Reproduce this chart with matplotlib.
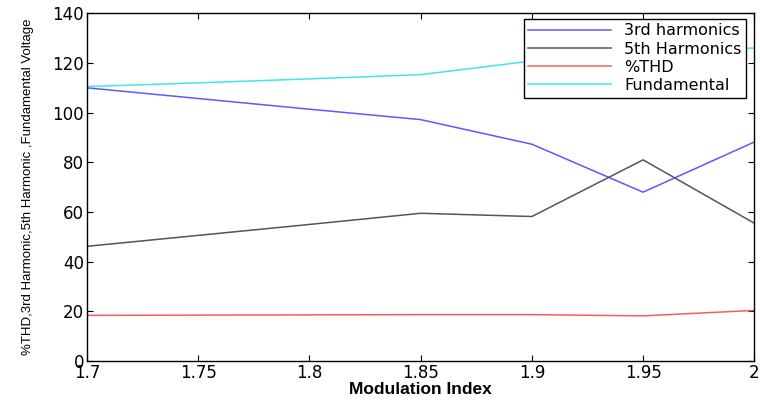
import matplotlib
matplotlib.use("Agg")
import matplotlib.pyplot as plt

# data
modulation_index = [1.7, 1.75, 1.8, 1.85, 1.9, 1.95, 2.0]
third_harmonic = [110.0, 105.7, 101.4, 97.2, 87.3, 68.0, 88.2]
fifth_harmonic = [46.2, 50.6, 55.0, 59.5, 58.2, 81.0, 55.5]
thd_percent = [18.4, 18.5, 18.6, 18.7, 18.7, 18.2, 20.4]
fundamental = [110.5, 112.0, 113.6, 115.3, 120.8, 125.0, 126.0]

x_ticks = [1.7, 1.75, 1.8, 1.85, 1.9, 1.95, 2.0]
x_tick_labels = ["1.7", "1.75", "1.8", "1.85", "1.9", "1.95", "2"]
y_ticks = [0, 20, 40, 60, 80, 100, 120, 140]

plt.rcParams["font.family"] = ["DejaVu Sans"]

fig = plt.figure(figsize=(7.6, 4.03), dpi=100)
ax = fig.add_axes([0.1145, 0.104, 0.878, 0.863])

ax.plot(modulation_index, third_harmonic, color="#5a5aff", lw=1.1, label="3rd harmonics")
ax.plot(modulation_index, fifth_harmonic, color="#555555", lw=1.1, label="5th Harmonics")
ax.plot(modulation_index, thd_percent, color="#ff5a5a", lw=1.1, label="%THD")
ax.plot(modulation_index, fundamental, color="#40e6e6", lw=1.1, label="Fundamental")

ax.set_xlim(1.7, 2.0)
ax.set_ylim(0, 140)
ax.set_xticks(x_ticks, x_tick_labels)
ax.set_yticks(y_ticks)
ax.tick_params(direction="in", top=True, right=True, length=4, labelsize=12, pad=2)
for spine in ax.spines.values():
    spine.set_linewidth(1.0)

ax.set_xlabel("Modulation Index", fontsize=12.5, fontweight="bold", labelpad=0,
              family=["Liberation Sans", "DejaVu Sans"])
ax.set_ylabel("%THD,3rd Harmonic,5th Harmonic ,Fundamental Voltage", fontsize=9.5,
              family=["Liberation Sans Narrow", "Liberation Sans", "DejaVu Sans"])
ax.yaxis.set_label_coords(-0.08, 0.5)

leg = ax.legend(loc="upper right", bbox_to_anchor=(0.988, 0.985), fontsize=11.5,
                fancybox=False, framealpha=1, edgecolor="black", borderpad=0.3,
                handlelength=5.2, labelspacing=0.2, borderaxespad=0)
leg.get_frame().set_linewidth(1.0)

fig.savefig("out.png", dpi=100)
